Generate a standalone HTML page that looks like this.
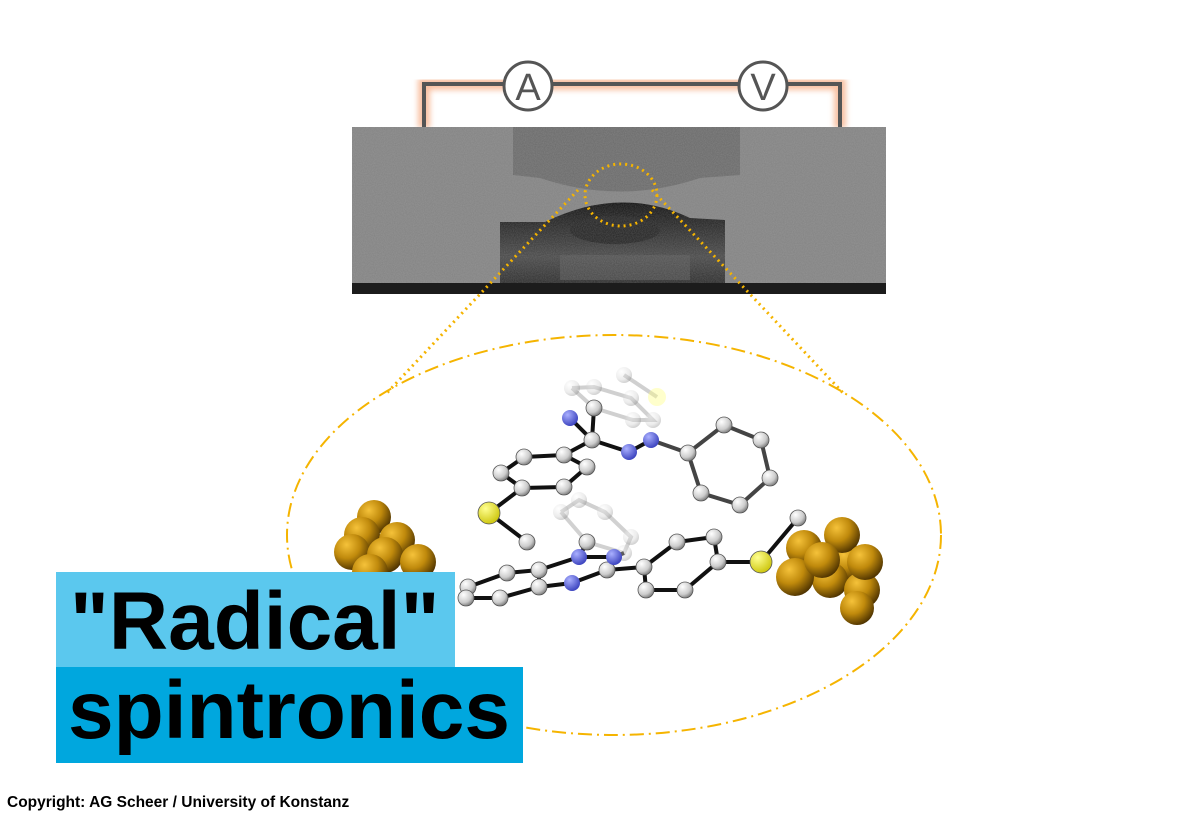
<!DOCTYPE html>
<html><head><meta charset="utf-8"><style>
html,body{margin:0;padding:0;background:#fff;width:1200px;height:818px;overflow:hidden;position:relative;font-family:"Liberation Sans",Arial,sans-serif}
.b1{position:absolute;left:56px;top:572px;width:399px;height:95px;background:#5bc8ee}
.b2{position:absolute;left:56px;top:667px;width:467px;height:96px;background:#00a7de}
.t{position:absolute;font-weight:bold;color:#000;white-space:nowrap;line-height:1}
</style></head><body>
<svg width="1200" height="818" style="position:absolute;left:0;top:0">
<defs>
<radialGradient id="au" cx="0.35" cy="0.3" r="0.75"><stop offset="0" stop-color="#f5c23a"/><stop offset="0.5" stop-color="#c08a0c"/><stop offset="1" stop-color="#4a3000"/></radialGradient>
<radialGradient id="c" cx="0.35" cy="0.3" r="0.8"><stop offset="0" stop-color="#fff"/><stop offset="0.6" stop-color="#ccc"/><stop offset="1" stop-color="#666"/></radialGradient>
<radialGradient id="n" cx="0.35" cy="0.3" r="0.8"><stop offset="0" stop-color="#aab0ff"/><stop offset="1" stop-color="#3038b8"/></radialGradient>
<radialGradient id="s" cx="0.35" cy="0.3" r="0.8"><stop offset="0" stop-color="#ffff90"/><stop offset="1" stop-color="#c8c000"/></radialGradient>
<linearGradient id="gap" x1="0" y1="0" x2="0" y2="1"><stop offset="0" stop-color="#111"/><stop offset="0.6" stop-color="#4a4a4a"/><stop offset="1" stop-color="#222"/></linearGradient>
<filter id="bl"><feGaussianBlur stdDeviation="3"/></filter>
<filter id="nz" x="0" y="0" width="1" height="1"><feTurbulence type="fractalNoise" baseFrequency="0.9" numOctaves="2" seed="3"/><feColorMatrix type="matrix" values="0 0 0 0 0.5  0 0 0 0 0.5  0 0 0 0 0.5  0 0 0 -1.2 1.1"/><feComposite in2="SourceGraphic" operator="in"/></filter>
</defs>
<!-- circuit -->
<path d="M424,128 V84 H840 V128" fill="none" stroke="#f7b08a" stroke-width="12" filter="url(#bl)" opacity="0.8"/>
<path d="M424,128 V84 H840 V128" fill="none" stroke="#555" stroke-width="4"/>
<circle cx="528" cy="86" r="24" fill="#fff" stroke="#555" stroke-width="3"/>
<circle cx="763" cy="86" r="24" fill="#fff" stroke="#555" stroke-width="3"/>
<text x="528" y="100" text-anchor="middle" font-size="38" fill="#555" font-family="Liberation Sans">A</text>
<text x="763" y="100" text-anchor="middle" font-size="38" fill="#555" font-family="Liberation Sans">V</text>
<!-- SEM -->
<rect x="352" y="127" width="534" height="167" fill="#848484"/>
<path d="M513,127 V175 L540,178 Q620,205 700,178 L740,175 V127Z" fill="#6c6c6c"/>
<path d="M500,222 L545,222 Q620,185 690,218 L725,220 L725,293 H500Z" fill="url(#gap)"/>
<ellipse cx="615" cy="230" rx="45" ry="14" fill="#262626"/>
<rect x="560" y="255" width="130" height="25" fill="#5a5a5a" opacity="0.6"/>
<rect x="352" y="127" width="534" height="167" fill="#000" filter="url(#nz)" opacity="0.25"/>
<rect x="352" y="283" width="534" height="11" fill="#1c1c1c"/>
<!-- dotted zoom lines -->
<g stroke="#f5b400" stroke-width="3" stroke-dasharray="2 4" fill="none">
<ellipse cx="621" cy="195" rx="36" ry="31"/>
<line x1="578" y1="190" x2="385" y2="395"/>
<line x1="652" y1="190" x2="845" y2="395"/>
</g>
<ellipse cx="614" cy="535" rx="327" ry="200" fill="none" stroke="#f5b400" stroke-width="2" stroke-dasharray="14 5 2 5"/>
<!-- molecule bonds -->
<g stroke="#ccc" stroke-width="4" fill="none" opacity="0.9">
<polyline points="572,388 594,387 631,398 653,420 633,420 594,408 572,388"/>
<line x1="624" y1="375" x2="657" y2="397"/>
<polyline points="561,512 579,500 605,512 631,537 624,553 587,542 561,512"/>
</g>
<g stroke="#111" stroke-width="4" fill="none" stroke-linejoin="round">
<polyline points="570,418 592,440 629,452 651,440"/>
<line x1="594" y1="408" x2="592" y2="440"/>
<line x1="592" y1="440" x2="564" y2="455"/>
<polyline points="564,455 524,457 501,473 522,488 564,487 587,467 564,455"/>
<polyline points="522,488 489,513 527,542"/>
<polyline points="587,542 579,557 614,557 607,570 572,583 539,587 539,570 579,557"/>
<polyline points="539,570 507,573 468,587 466,598 500,598 539,587"/>
<polyline points="607,570 644,567 677,542 714,537 718,562 685,590 646,590 644,567"/>
<polyline points="718,562 761,562 798,518"/>
<line x1="614" y1="557" x2="624" y2="553"/>
</g>
<g stroke="#444" stroke-width="4" fill="none">
<polyline points="651,440 688,453 724,425 761,440 770,478 740,505 701,493 688,453"/>
</g>
<!-- atoms -->
<g fill="url(#c)" opacity="0.35">
<circle cx="572" cy="388" r="8"/><circle cx="594" cy="387" r="8"/><circle cx="624" cy="375" r="8"/><circle cx="631" cy="398" r="8"/><circle cx="653" cy="420" r="8"/><circle cx="633" cy="420" r="8"/>
<circle cx="561" cy="512" r="8"/><circle cx="579" cy="500" r="8"/><circle cx="605" cy="512" r="8"/><circle cx="631" cy="537" r="8"/><circle cx="624" cy="553" r="8"/>
</g>
<circle cx="657" cy="397" r="9" fill="#ffff80" opacity="0.4"/>
<g fill="url(#c)" stroke="#555" stroke-width="0.8">
<circle cx="594" cy="408" r="8"/><circle cx="592" cy="440" r="8"/>
<circle cx="688" cy="453" r="8"/><circle cx="724" cy="425" r="8"/><circle cx="761" cy="440" r="8"/><circle cx="770" cy="478" r="8"/><circle cx="740" cy="505" r="8"/><circle cx="701" cy="493" r="8"/>
<circle cx="564" cy="455" r="8"/><circle cx="524" cy="457" r="8"/><circle cx="501" cy="473" r="8"/><circle cx="522" cy="488" r="8"/><circle cx="564" cy="487" r="8"/><circle cx="587" cy="467" r="8"/>
<circle cx="527" cy="542" r="8"/><circle cx="587" cy="542" r="8"/>
<circle cx="607" cy="570" r="8"/><circle cx="539" cy="587" r="8"/><circle cx="539" cy="570" r="8"/><circle cx="507" cy="573" r="8"/><circle cx="468" cy="587" r="8"/><circle cx="466" cy="598" r="8"/><circle cx="500" cy="598" r="8"/>
<circle cx="644" cy="567" r="8"/><circle cx="677" cy="542" r="8"/><circle cx="714" cy="537" r="8"/><circle cx="718" cy="562" r="8"/><circle cx="685" cy="590" r="8"/><circle cx="646" cy="590" r="8"/>
<circle cx="798" cy="518" r="8"/>
</g>
<g fill="url(#n)"><circle cx="570" cy="418" r="8"/><circle cx="629" cy="452" r="8"/><circle cx="651" cy="440" r="8"/><circle cx="579" cy="557" r="8"/><circle cx="614" cy="557" r="8"/><circle cx="572" cy="583" r="8"/></g>
<g fill="url(#s)" stroke="#555" stroke-width="0.8"><circle cx="489" cy="513" r="11"/><circle cx="761" cy="562" r="11"/></g>
<!-- gold clusters -->
<g fill="url(#au)">
<circle cx="374" cy="517" r="17"/><circle cx="362" cy="535" r="18"/><circle cx="397" cy="540" r="18"/><circle cx="352" cy="552" r="18"/><circle cx="385" cy="555" r="18"/><circle cx="418" cy="562" r="18"/><circle cx="370" cy="572" r="18"/>
<circle cx="849" cy="562" r="18"/><circle cx="842" cy="535" r="18"/><circle cx="804" cy="548" r="18"/><circle cx="830" cy="580" r="18"/><circle cx="862" cy="590" r="18"/><circle cx="857" cy="608" r="17"/><circle cx="795" cy="577" r="19"/><circle cx="822" cy="560" r="18"/><circle cx="865" cy="562" r="18"/>
</g>
</svg>
<div class="b1"></div><div class="b2"></div>
<div class="t" style="left:70px;top:581px;font-size:82px">"Radical"</div>
<div class="t" style="left:68px;top:670px;font-size:82px">spintronics</div>
<div class="t" style="left:7px;top:795px;font-size:15.5px">Copyright: AG Scheer / University of Konstanz</div>
</body></html>
